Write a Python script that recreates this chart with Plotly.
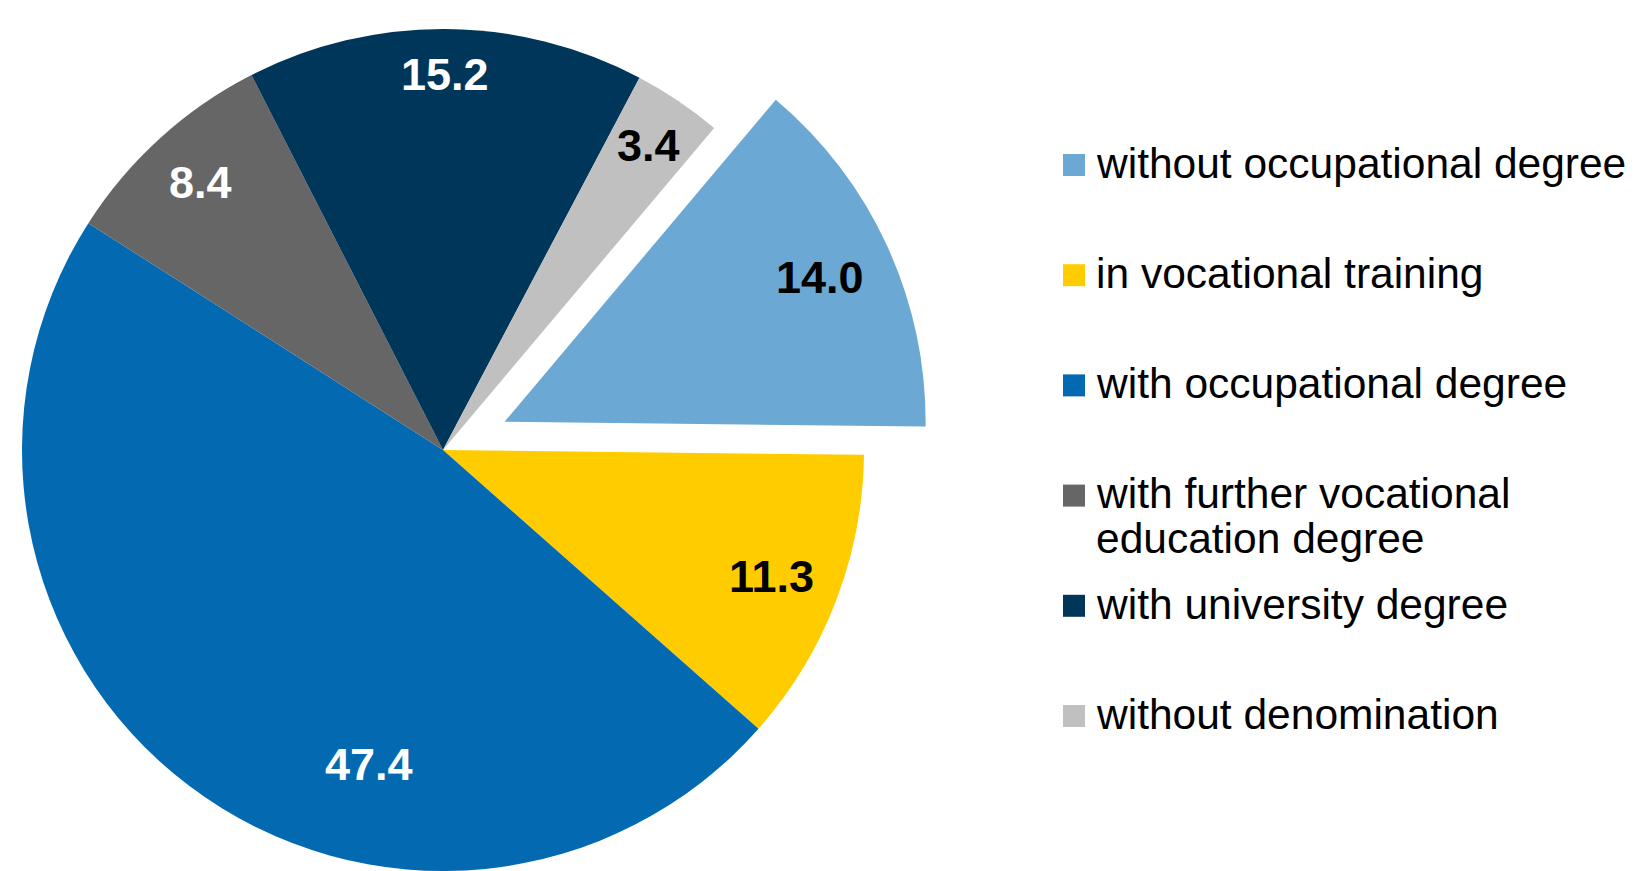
import math
import textwrap
import plotly.graph_objects as go

# Shares of the population by vocational qualification (percent)
labels = [
    "without occupational degree",
    "in vocational training",
    "with occupational degree",
    "with further vocational education degree",
    "with university degree",
    "without denomination",
]
values = [14.0, 11.3, 47.4, 8.4, 15.2, 3.4]
colors = ["#6BA8D4", "#FFCC00", "#036AB2", "#666666", "#00365A", "#C0C0C0"]
label_colors = ["black", "black", "white", "white", "white", "black"]

W, H = 1639, 871
ROTATION = 40.1        # start angle of the first slice, clockwise from 12 o'clock
PULL = 0.161           # offset of the highlighted slice, as a fraction of the radius
HIGHLIGHT = 0          # index of the slice that is pulled out

total = sum(values)
starts = [ROTATION + sum(values[:i]) / total * 360 for i in range(len(values))]
mids = [s + v / total * 360 / 2 for s, v in zip(starts, values)]

# pie geometry in pixels
theta = math.radians(mids[HIGHLIGHT])
k = PULL * math.cos(theta)
R = math.floor(H / (2 + k))
CX, CY = 443.0, H - R
PCX = CX + PULL * R * math.sin(theta)
PCY = CY - PULL * R * math.cos(theta)


def domain(cx, cy, r):
    return dict(x=[(cx - r) / W, (cx + r) / W],
                y=[max(0.0, 1 - (cy + r) / H), min(1.0, 1 - (cy - r) / H)])


clear = "rgba(0,0,0,0)"
main_colors = [clear if i == HIGHLIGHT else c for i, c in enumerate(colors)]
pulled_colors = [c if i == HIGHLIGHT else clear for i, c in enumerate(colors)]

common = dict(labels=labels, values=values, sort=False, direction="clockwise",
              rotation=ROTATION, textinfo="none", showlegend=False,
              hoverinfo="label+value")

fig = go.Figure()
fig.add_trace(go.Pie(domain=domain(CX, CY, R),
                     marker=dict(colors=main_colors, line=dict(width=0)),
                     **common))
fig.add_trace(go.Pie(domain=domain(PCX, PCY, R),
                     marker=dict(colors=pulled_colors, line=dict(width=0)),
                     **common))

# value labels inside the slices
label_radius = [0.823, 0.835, 0.767, 0.858, 0.891, 0.872]
label_shift = [0.0, 0.0, -23.7, 0.0, 0.0, 0.0]
annotations = []
for i, v in enumerate(values):
    cx, cy = (PCX, PCY) if i == HIGHLIGHT else (CX, CY)
    a = math.radians(mids[i] + label_shift[i])
    x = cx + label_radius[i] * R * math.sin(a)
    y = cy - label_radius[i] * R * math.cos(a)
    annotations.append(dict(
        x=x / W, y=1 - y / H, xref="paper", yref="paper",
        text=f"{v:.1f}", showarrow=False, xanchor="center", yanchor="middle",
        font=dict(family="Liberation Sans, Arial, sans-serif", size=45,
                  weight="bold", color=label_colors[i]),
    ))

# legend: square swatches with labels to the right
shapes = []
SW_X0, SW_X1, SW = 1063, 1085, 22
TEXT_X = 1095
ROW0, ROW_STEP, LINE_STEP = 165, 110.2, 45
FONT_PX = 42.5
for i, (lab, col) in enumerate(zip(labels, colors)):
    yc = ROW0 + i * ROW_STEP
    shapes.append(dict(type="rect", xref="paper", yref="paper",
                       x0=SW_X0 / W, x1=SW_X1 / W,
                       y0=1 - (yc + SW / 2) / H, y1=1 - (yc - SW / 2) / H,
                       fillcolor=col, line=dict(width=0)))
    for j, line in enumerate(textwrap.wrap(lab, width=27)):
        baseline = yc + 13 + j * LINE_STEP
        ymid = baseline - 0.3465 * FONT_PX
        annotations.append(dict(
            x=TEXT_X / W, y=1 - ymid / H, xref="paper", yref="paper",
            text=line, showarrow=False, xanchor="left", yanchor="middle",
            borderpad=0,
            font=dict(family="Liberation Sans, Arial, sans-serif", size=FONT_PX,
                      color="black"),
        ))

fig.update_layout(
    width=W, height=H,
    margin=dict(l=0, r=0, t=0, b=0),
    paper_bgcolor="white", plot_bgcolor="white",
    annotations=annotations, shapes=shapes,
    showlegend=False,
)

fig.write_html("out.html")
